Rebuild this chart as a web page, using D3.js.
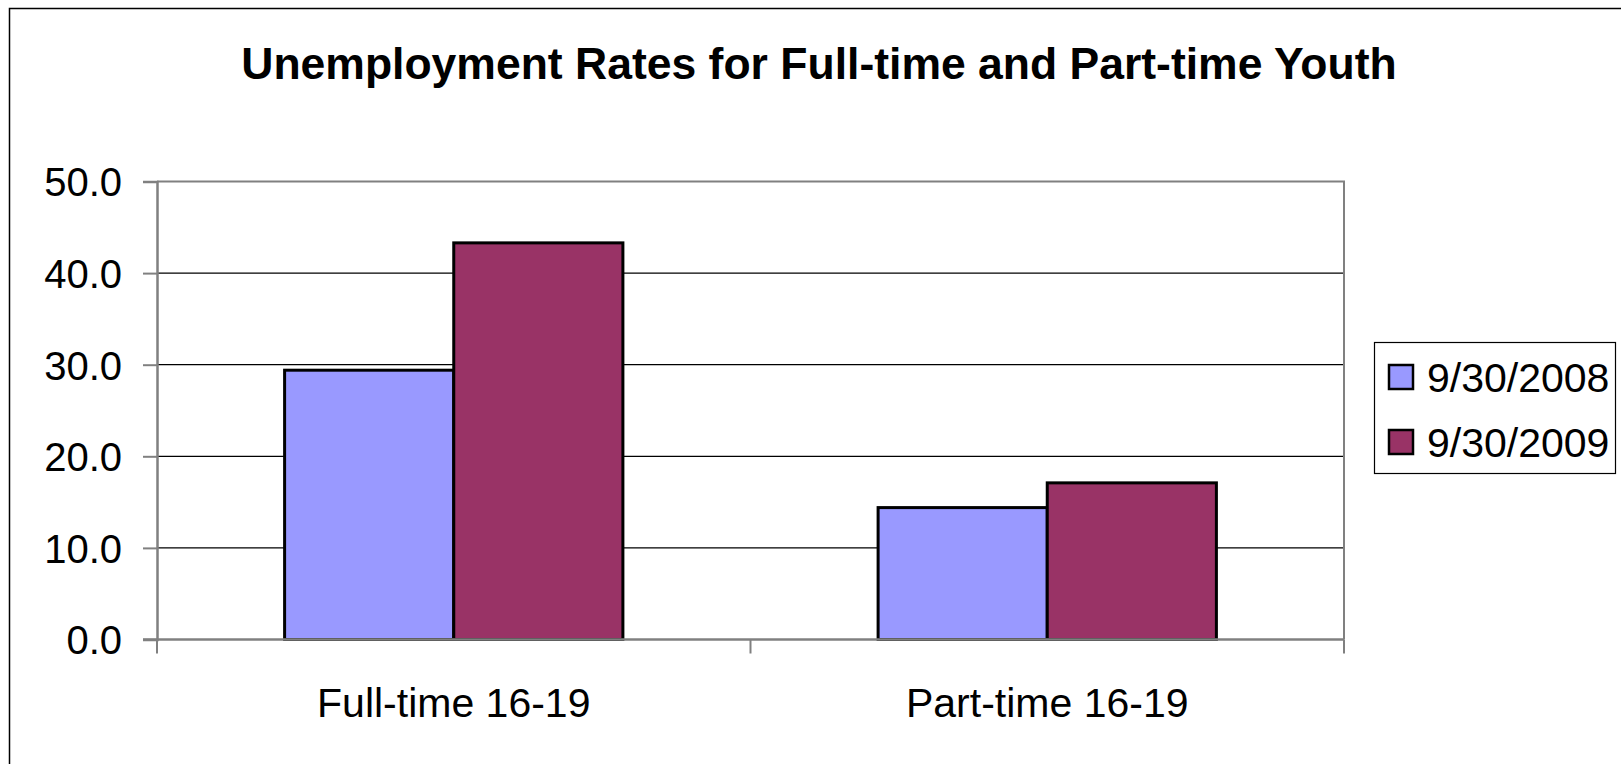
<!DOCTYPE html>
<html>
<head>
<meta charset="utf-8">
<script src="https://cdn.jsdelivr.net/npm/d3@7"></script>
<style>
  body { margin: 0; background: #fff; }
  text { font-family: "Liberation Sans", Arial, sans-serif; }
</style>
</head>
<body>
<svg id="chart"></svg>
<script>
var width = 1621;
var height = 764;

var categories = ["Full-time 16-19", "Part-time 16-19"];
var seriesNames = ["9/30/2008", "9/30/2009"];
var series2008 = [29.4, 14.4];
var series2009 = [43.3, 17.1];
var yTicks = [0, 10, 20, 30, 40, 50];
var colors = ["#9999FF", "#993366"];

var plot = {left: 157, right: 1344, top: 181.5, bottom: 639.5};

var svg = d3.select('#chart')
    .attr('width', width)
    .attr('height', height);

// outer chart border
svg.append('rect')
    .attr('x', 9.5).attr('y', 8.5)
    .attr('width', width + 20).attr('height', height + 20)
    .attr('fill', 'none')
    .attr('stroke', '#000')
    .attr('stroke-width', 1.5);

svg.append('text')
    .attr('x', 819)
    .attr('y', 79)
    .attr('text-anchor', 'middle')
    .attr('font-size', 44.5)
    .attr('font-weight', 'bold')
    .text('Unemployment Rates for Full-time and Part-time Youth');

var x0 = d3.scaleBand()
    .domain(categories)
    .range([plot.left, plot.right])
    .paddingInner(0.43)
    .paddingOuter(0.215);

var x1 = d3.scaleBand()
    .domain(seriesNames)
    .range([0, x0.bandwidth()]);

var y = d3.scaleLinear()
    .domain([0, 50])
    .range([plot.bottom, plot.top]);

// gridlines
svg.append('g')
    .selectAll('line')
    .data(yTicks.filter(function(t){ return t > 0 && t < 50; }))
    .enter().append('line')
    .attr('x1', plot.left).attr('x2', plot.right)
    .attr('y1', function(d){ return y(d); })
    .attr('y2', function(d){ return y(d); })
    .attr('stroke', '#000')
    .attr('stroke-width', 1.3);

// plot area border (top + right)
svg.append('path')
    .attr('d', 'M' + plot.left + ',' + plot.top + 'H' + plot.right + 'V' + plot.bottom)
    .attr('fill', 'none')
    .attr('stroke', '#808080')
    .attr('stroke-width', 2);

// bars
var rows = categories.map(function(c, i){
    return {cat: c, vals: [series2008[i], series2009[i]]};
});

var groups = svg.append('g')
    .selectAll('g')
    .data(rows)
    .enter().append('g')
    .attr('transform', function(d){ return 'translate(' + x0(d.cat) + ',0)'; });

groups.selectAll('rect')
    .data(function(d){ return d.vals.map(function(v, j){ return {name: seriesNames[j], v: v, j: j}; }); })
    .enter().append('rect')
    .attr('x', function(d){ return x1(d.name); })
    .attr('y', function(d){ return y(d.v); })
    .attr('width', x1.bandwidth())
    .attr('height', function(d){ return y(0) - y(d.v); })
    .attr('fill', function(d){ return colors[d.j]; })
    .attr('stroke', '#000')
    .attr('stroke-width', 3);

// y axis
var yAxis = d3.axisLeft(y)
    .tickValues(yTicks)
    .tickFormat(d3.format('.1f'))
    .tickSize(14)
    .tickPadding(21);

var gy = svg.append('g')
    .attr('transform', 'translate(' + plot.left + ',0)')
    .call(yAxis);
gy.select('.domain').attr('stroke', '#808080').attr('stroke-width', 2.5);
gy.selectAll('.tick line').attr('stroke', '#808080').attr('stroke-width', 2);
gy.selectAll('.tick text')
    .attr('font-size', 40)
    .attr('font-family', '"Liberation Sans", Arial, sans-serif')
    .attr('fill', '#000')
    .attr('dy', '0.36em');

// x axis baseline + category dividers
svg.append('line')
    .attr('x1', plot.left - 14).attr('x2', plot.right)
    .attr('y1', plot.bottom).attr('y2', plot.bottom)
    .attr('stroke', '#808080')
    .attr('stroke-width', 2.5);

var dividers = [plot.left, plot.left + x0.step(), plot.right];
svg.append('g')
    .selectAll('line')
    .data(dividers)
    .enter().append('line')
    .attr('x1', function(d){ return d; }).attr('x2', function(d){ return d; })
    .attr('y1', plot.bottom).attr('y2', plot.bottom + 14)
    .attr('stroke', '#808080')
    .attr('stroke-width', 2);

svg.append('g')
    .selectAll('text')
    .data(categories)
    .enter().append('text')
    .attr('x', function(d){ return x0(d) + x0.bandwidth() / 2; })
    .attr('y', 717)
    .attr('text-anchor', 'middle')
    .attr('font-size', 41)
    .text(function(d){ return d; });

// legend
var legend = svg.append('g').attr('transform', 'translate(1374,342)');
legend.append('rect')
    .attr('x', 0.5).attr('y', 0.5)
    .attr('width', 241).attr('height', 131)
    .attr('fill', '#fff')
    .attr('stroke', '#000')
    .attr('stroke-width', 1.2);

var items = legend.selectAll('g.item')
    .data(seriesNames)
    .enter().append('g')
    .attr('class', 'item')
    .attr('transform', function(d, i){ return 'translate(0,' + (i * 65) + ')'; });

items.append('rect')
    .attr('x', 15).attr('y', 23)
    .attr('width', 24).attr('height', 24)
    .attr('fill', function(d, i){ return colors[i]; })
    .attr('stroke', '#000')
    .attr('stroke-width', 2.5);

items.append('text')
    .attr('x', 53)
    .attr('y', 50)
    .attr('font-size', 41)
    .text(function(d){ return d; });
</script>
</body>
</html>
